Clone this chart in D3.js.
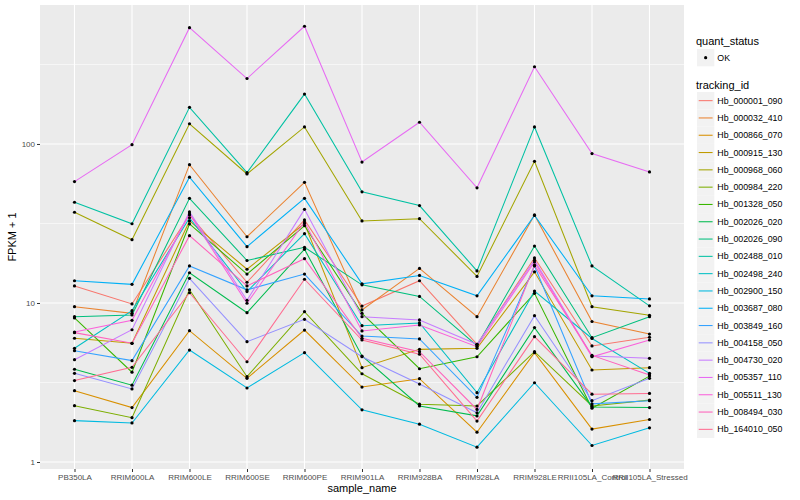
<!DOCTYPE html>
<html>
<head>
<meta charset="utf-8">
<script src="https://cdn.jsdelivr.net/npm/d3@7"></script>
<style>
  body { margin: 0; background: #fff; }
  svg { font-family: "Liberation Sans", Arial, sans-serif; }
</style>
</head>
<body>
<svg class="chart"></svg>
<script>
var samples = ["PB350LA", "RRIM600LA", "RRIM600LE", "RRIM600SE", "RRIM600PE", "RRIM901LA",
    "RRIM928BA", "RRIM928LA", "RRIM928LE", "RRII105LA_Control", "RRII105LA_Stressed"];

var trackingIds = ["Hb_000001_090", "Hb_000032_410", "Hb_000866_070", "Hb_000915_130", "Hb_000968_060",
    "Hb_000984_220", "Hb_001328_050", "Hb_002026_020", "Hb_002026_090", "Hb_002488_010",
    "Hb_002498_240", "Hb_002900_150", "Hb_003687_080", "Hb_003849_160", "Hb_004158_050",
    "Hb_004730_020", "Hb_005357_110", "Hb_005511_130", "Hb_008494_030", "Hb_164010_050"];

// FPKM + 1, one value per sample
var hb000001_090 = [12.8, 9.86, 35.8, 13.5, 33.3, 9.57, 13.8, 5.50, 19.2, 5.37, 6.09];
var hb000032_410 = [9.48, 8.61, 74.1, 26.1, 57.4, 9.04, 16.5, 8.20, 35.8, 7.65, 6.38];
var hb000866_070 = [2.81, 2.20, 6.70, 3.36, 6.76, 2.96, 3.34, 1.54, 4.87, 1.61, 1.85];
var hb000915_130 = [6.00, 5.58, 32.8, 16.3, 31.6, 3.92, 5.11, 5.19, 15.7, 3.79, 3.92];
var hb000968_060 = [37.2, 25.0, 134, 64.8, 128, 32.8, 33.9, 14.7, 77.8, 9.48, 8.37];
var hb000984_220 = [2.26, 1.90, 12.1, 3.44, 8.82, 3.59, 2.31, 2.25, 4.94, 2.25, 2.45];
var hb001328_050 = [8.05, 3.67, 31.4, 15.2, 30.6, 8.61, 3.86, 4.59, 11.5, 2.18, 3.47];
var hb002026_020 = [3.83, 3.04, 15.5, 8.69, 21.8, 4.64, 2.25, 1.95, 7.00, 2.22, 2.20];
var hb002026_090 = [8.20, 8.41, 45.5, 18.5, 22.4, 13.0, 11.0, 5.39, 22.8, 6.05, 8.20];
var hb002488_010 = [43.0, 31.5, 170, 66.0, 206, 50.0, 41.0, 15.9, 128, 17.1, 9.60];
var hb002498_240 = [5.19, 8.95, 34.3, 11.8, 27.3, 7.20, 7.49, 2.73, 11.9, 5.98, 3.61];
var hb002900_150 = [1.82, 1.76, 5.06, 2.92, 4.87, 2.13, 1.73, 1.24, 3.15, 1.27, 1.64];
var hb003687_080 = [13.8, 13.1, 61.8, 22.6, 45.5, 13.2, 14.9, 11.1, 35.5, 11.1, 10.6];
var hb003849_160 = [5.01, 4.34, 17.1, 12.1, 15.2, 6.20, 5.94, 2.55, 17.1, 2.32, 2.43];
var hb004158_050 = [3.61, 2.88, 14.3, 5.71, 7.89, 4.59, 3.09, 2.04, 8.32, 2.43, 3.36];
var hb004730_020 = [4.40, 6.79, 37.4, 10.4, 38.8, 8.20, 7.82, 5.50, 18.6, 4.64, 4.49];
var hb005357_110 = [58.0, 99.0, 539, 258, 550, 77.0, 137, 53.0, 306, 87.0, 66.7];
var hb005511_130 = [6.57, 7.78, 36.3, 9.96, 32.3, 6.67, 7.27, 5.31, 18.1, 4.59, 5.85];
var hb008494_030 = [6.51, 5.58, 26.5, 12.8, 19.0, 6.00, 4.94, 2.14, 17.3, 4.68, 3.53];
var hb164010_050 = [3.25, 3.94, 11.6, 4.27, 14.1, 5.85, 4.76, 1.81, 6.14, 2.67, 2.70];

var seriesValues = [hb000001_090, hb000032_410, hb000866_070, hb000915_130, hb000968_060,
    hb000984_220, hb001328_050, hb002026_020, hb002026_090, hb002488_010,
    hb002498_240, hb002900_150, hb003687_080, hb003849_160, hb004158_050,
    hb004730_020, hb005357_110, hb005511_130, hb008494_030, hb164010_050];

var yTicks = [1, 10, 100];
var yMinorTicks = [Math.sqrt(10), Math.sqrt(1000), Math.sqrt(100000)];
var quantStatus = ["OK"];

var colors = ["#F8766D", "#EA8331", "#D89000", "#C09B00", "#A3A500", "#7CAE00", "#39B600",
    "#00BB4E", "#00BF7D", "#00C1A3", "#00BFC4", "#00BAE0", "#00B0F6", "#35A2FF",
    "#9590FF", "#C77CFF", "#E76BF3", "#FA62DB", "#FF62BC", "#FF6C91"];

var outerSize = {width: 800, height: 500};
var panel = {left: 40, right: 684, top: 5, bottom: 469};

var svg = d3.select(".chart")
        .attr("width", outerSize.width)
        .attr("height", outerSize.height);

var xRange = d3.scalePoint()
        .domain(samples)
        .range([panel.left, panel.right])
        .padding(0.6);

var yRange = d3.scaleLog()
        .domain([Math.pow(10, -0.044), Math.pow(10, 2.874)])
        .range([panel.bottom, panel.top]);

var color = d3.scaleOrdinal().domain(trackingIds).range(colors);

// panel background + grid
svg.append("rect")
        .attr("x", panel.left)
        .attr("y", panel.top)
        .attr("width", panel.right - panel.left)
        .attr("height", panel.bottom - panel.top)
        .attr("fill", "#EBEBEB");

svg.append("g").selectAll("line")
        .data(yMinorTicks)
        .enter().append("line")
        .attr("x1", panel.left).attr("x2", panel.right)
        .attr("y1", function (d) { return yRange(d); })
        .attr("y2", function (d) { return yRange(d); })
        .attr("stroke", "#fff").attr("stroke-width", 0.55);

svg.append("g").selectAll("line")
        .data(yTicks)
        .enter().append("line")
        .attr("x1", panel.left).attr("x2", panel.right)
        .attr("y1", function (d) { return yRange(d); })
        .attr("y2", function (d) { return yRange(d); })
        .attr("stroke", "#fff").attr("stroke-width", 1.1);

svg.append("g").selectAll("line")
        .data(samples)
        .enter().append("line")
        .attr("x1", function (d) { return xRange(d); })
        .attr("x2", function (d) { return xRange(d); })
        .attr("y1", panel.top).attr("y2", panel.bottom)
        .attr("stroke", "#fff").attr("stroke-width", 1.1);

// lines
var line = d3.line()
        .x(function (d, i) { return xRange(samples[i]); })
        .y(function (d) { return yRange(d); });

svg.append("g").selectAll("path")
        .data(seriesValues)
        .enter().append("path")
        .attr("d", line)
        .attr("fill", "none")
        .attr("stroke", function (d, i) { return color(trackingIds[i]); })
        .attr("stroke-width", 1.05);

// points
var points = [];
seriesValues.forEach(function (vals) {
    vals.forEach(function (v, i) { points.push({sample: samples[i], value: v}); });
});
svg.append("g").selectAll("circle")
        .data(points)
        .enter().append("circle")
        .attr("cx", function (d) { return xRange(d.sample); })
        .attr("cy", function (d) { return yRange(d.value); })
        .attr("r", 1.6)
        .attr("fill", "#000");

// axes
var xAxis = svg.append("g")
        .attr("transform", "translate(0," + panel.bottom + ")")
        .call(d3.axisBottom(xRange).tickSize(3).tickPadding(2));
var yAxis = svg.append("g")
        .attr("transform", "translate(" + panel.left + ",0)")
        .call(d3.axisLeft(yRange).tickValues(yTicks).tickFormat(d3.format("d")).tickSize(3).tickPadding(2));
[xAxis, yAxis].forEach(function (ax) {
    ax.select(".domain").remove();
    ax.selectAll(".tick line").attr("stroke", "#333").attr("stroke-width", 1);
    ax.selectAll(".tick text")
            .attr("fill", "#4D4D4D")
            .style("font-size", "8px")
            .style("font-family", "'Liberation Sans', Arial, sans-serif");
});

svg.append("text")
        .attr("x", (panel.left + panel.right) / 2)
        .attr("y", 492)
        .style("text-anchor", "middle")
        .style("font-size", "11px")
        .text("sample_name");
svg.append("text")
        .attr("transform", "translate(16," + ((panel.top + panel.bottom) / 2) + ") rotate(-90)")
        .style("text-anchor", "middle")
        .style("font-size", "11px")
        .text("FPKM + 1");

// legends
var legendX = 697;
var keySize = 17.3;

svg.append("text")
        .attr("x", legendX - 1).attr("y", 45)
        .style("font-size", "11px")
        .text("quant_status");
var qs = svg.append("g").selectAll("g")
        .data(quantStatus)
        .enter().append("g")
        .attr("transform", function (d, i) { return "translate(" + legendX + "," + (49 + i * keySize) + ")"; });
qs.append("rect").attr("width", keySize).attr("height", keySize).attr("fill", "#F2F2F2");
qs.append("circle").attr("cx", keySize / 2).attr("cy", keySize / 2).attr("r", 1.6).attr("fill", "#000");
qs.append("text")
        .attr("x", keySize + 3).attr("y", keySize / 2 + 3)
        .style("font-size", "8.8px")
        .text(function (d) { return d; });

svg.append("text")
        .attr("x", legendX - 1).attr("y", 89)
        .style("font-size", "11px")
        .text("tracking_id");
var tk = svg.append("g").selectAll("g")
        .data(trackingIds)
        .enter().append("g")
        .attr("transform", function (d, i) { return "translate(" + legendX + "," + (92 + i * keySize) + ")"; });
tk.append("rect").attr("width", keySize).attr("height", keySize).attr("fill", "#F2F2F2");
tk.append("line")
        .attr("x1", 1.7).attr("x2", keySize - 1.7)
        .attr("y1", keySize / 2).attr("y2", keySize / 2)
        .attr("stroke", function (d) { return color(d); })
        .attr("stroke-width", 1.05);
tk.append("text")
        .attr("x", keySize + 3).attr("y", keySize / 2 + 3)
        .style("font-size", "8.8px")
        .text(function (d) { return d; });
</script>
</body>
</html>
